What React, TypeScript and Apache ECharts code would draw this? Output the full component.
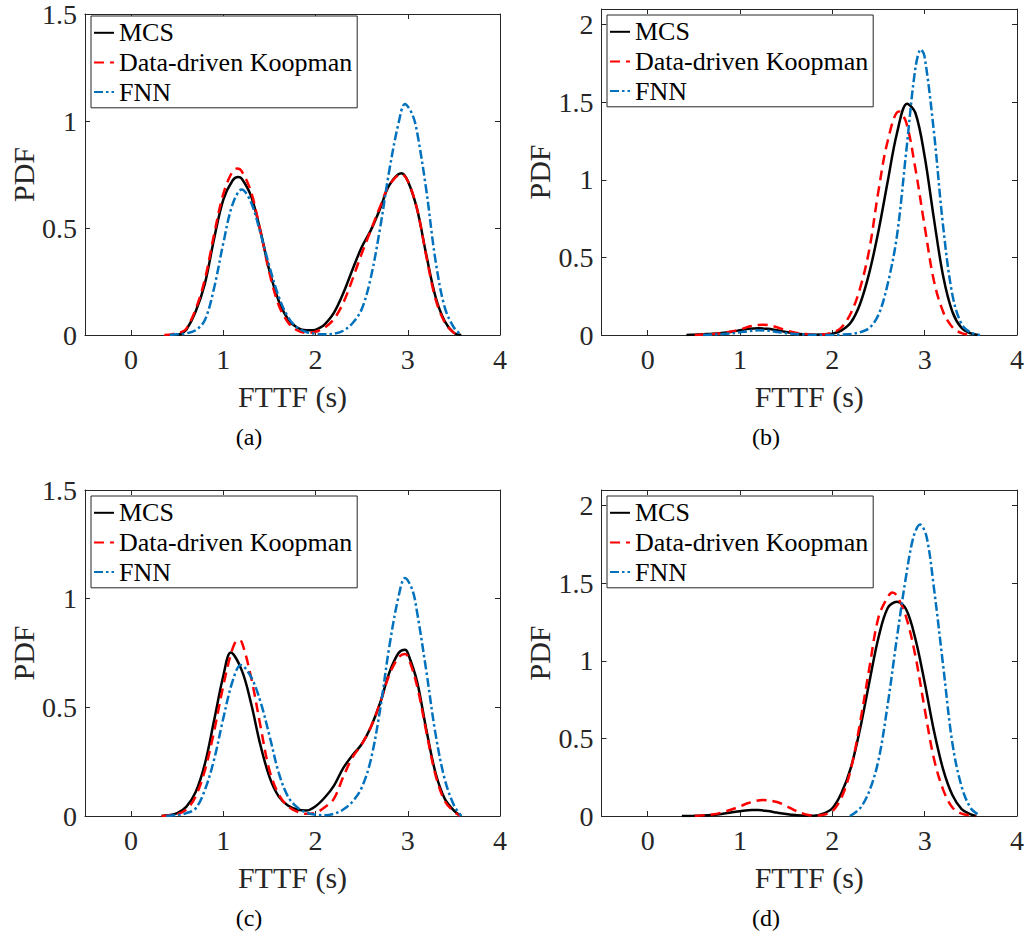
import React, { useEffect, useRef } from "react";
import * as echarts from "echarts";

// ---------- data ----------
const SERIES_NAMES = ["MCS", "Data-driven Koopman", "FNN"];
const CAPTIONS = ["(a)", "(b)", "(c)", "(d)"];
const X_TICKS = [0, 1, 2, 3, 4];
const Y_TICKS_AC = [0, 0.5, 1, 1.5];
const Y_TICKS_BD = [0, 0.5, 1, 1.5, 2];
const X_MIN = -0.5;
const X_MAX = 4;
const Y_MAX = [1.5, 2.1, 1.5, 2.1];

// panel (a)
const A_MCS = [[0.49, 0], [0.55, 0.008], [0.6, 0.025], [0.7, 0.11], [0.8, 0.24], [0.9, 0.45], [1.0, 0.633], [1.1, 0.722], [1.16, 0.738], [1.2, 0.73], [1.3, 0.65], [1.4, 0.49], [1.5, 0.3], [1.6, 0.16], [1.7, 0.075], [1.8, 0.035], [1.9, 0.022], [1.97, 0.022], [2.05, 0.035], [2.1, 0.05], [2.2, 0.105], [2.3, 0.195], [2.4, 0.305], [2.5, 0.41], [2.6, 0.49], [2.7, 0.59], [2.8, 0.7], [2.93, 0.756], [3.0, 0.72], [3.1, 0.59], [3.2, 0.376], [3.3, 0.18], [3.4, 0.065], [3.5, 0.01], [3.58, 0]];
const A_KOOP = [[0.36, 0], [0.45, 0.004], [0.55, 0.015], [0.6, 0.03], [0.7, 0.12], [0.8, 0.26], [0.9, 0.47], [1.0, 0.66], [1.1, 0.765], [1.15, 0.778], [1.2, 0.765], [1.3, 0.67], [1.4, 0.49], [1.5, 0.29], [1.6, 0.14], [1.7, 0.06], [1.8, 0.022], [1.9, 0.01], [2.0, 0.015], [2.1, 0.035], [2.2, 0.075], [2.3, 0.15], [2.4, 0.26], [2.5, 0.38], [2.6, 0.49], [2.7, 0.6], [2.8, 0.7], [2.93, 0.752], [3.0, 0.72], [3.1, 0.59], [3.2, 0.37], [3.3, 0.17], [3.4, 0.06], [3.5, 0.01], [3.57, 0]];
const A_FNN = [[0.42, 0], [0.5, 0.003], [0.6, 0.008], [0.7, 0.022], [0.8, 0.07], [0.9, 0.22], [1.0, 0.43], [1.1, 0.61], [1.2, 0.68], [1.3, 0.62], [1.4, 0.48], [1.5, 0.32], [1.6, 0.18], [1.7, 0.085], [1.8, 0.035], [1.9, 0.014], [2.0, 0.006], [2.1, 0.003], [2.2, 0.006], [2.3, 0.02], [2.4, 0.055], [2.5, 0.12], [2.6, 0.27], [2.7, 0.5], [2.8, 0.77], [2.9, 0.99], [2.97, 1.08], [3.05, 1.03], [3.1, 0.95], [3.2, 0.68], [3.3, 0.35], [3.4, 0.13], [3.5, 0.035], [3.58, 0]];

// panel (b)
const B_MCS = [[0.42, 0], [0.5, 0.002], [0.6, 0.005], [0.7, 0.008], [0.8, 0.013], [0.9, 0.02], [1.0, 0.03], [1.1, 0.04], [1.2, 0.043], [1.3, 0.04], [1.4, 0.03], [1.5, 0.02], [1.6, 0.01], [1.7, 0.004], [1.8, 0.002], [1.9, 0.003], [2.0, 0.008], [2.1, 0.03], [2.2, 0.08], [2.3, 0.2], [2.4, 0.4], [2.5, 0.67], [2.6, 0.99], [2.7, 1.3], [2.81, 1.49], [2.9, 1.43], [3.0, 1.15], [3.1, 0.75], [3.2, 0.38], [3.3, 0.15], [3.4, 0.045], [3.5, 0.01], [3.58, 0]];
const B_KOOP = [[0.51, 0], [0.6, 0.003], [0.7, 0.006], [0.8, 0.012], [0.9, 0.022], [1.0, 0.035], [1.1, 0.055], [1.2, 0.065], [1.25, 0.066], [1.3, 0.064], [1.4, 0.05], [1.5, 0.03], [1.6, 0.015], [1.7, 0.006], [1.8, 0.003], [1.9, 0.004], [2.0, 0.015], [2.1, 0.05], [2.2, 0.14], [2.3, 0.3], [2.4, 0.55], [2.5, 0.93], [2.6, 1.25], [2.72, 1.44], [2.8, 1.37], [2.9, 1.07], [3.0, 0.7], [3.1, 0.35], [3.2, 0.15], [3.3, 0.05], [3.4, 0.012], [3.5, 0]];
const B_FNN = [[0.6, 0], [0.7, 0.003], [0.8, 0.006], [0.9, 0.01], [1.0, 0.017], [1.1, 0.025], [1.2, 0.03], [1.3, 0.028], [1.4, 0.02], [1.5, 0.012], [1.6, 0.006], [1.7, 0.003], [1.8, 0.001], [1.9, 0], [2.0, 0], [2.1, 0.002], [2.2, 0.006], [2.3, 0.018], [2.4, 0.045], [2.5, 0.13], [2.6, 0.33], [2.7, 0.64], [2.8, 1.18], [2.9, 1.72], [2.96, 1.84], [3.0, 1.79], [3.1, 1.31], [3.2, 0.7], [3.3, 0.26], [3.4, 0.07], [3.5, 0.015], [3.6, 0]];

// panel (c)
const C_MCS = [[0.33, 0], [0.4, 0.003], [0.5, 0.013], [0.6, 0.043], [0.7, 0.11], [0.8, 0.24], [0.9, 0.44], [1.0, 0.645], [1.08, 0.752], [1.2, 0.67], [1.3, 0.52], [1.4, 0.33], [1.5, 0.18], [1.6, 0.09], [1.7, 0.048], [1.8, 0.03], [1.9, 0.025], [2.0, 0.045], [2.1, 0.085], [2.2, 0.14], [2.3, 0.22], [2.4, 0.28], [2.5, 0.33], [2.6, 0.41], [2.7, 0.52], [2.8, 0.66], [2.9, 0.75], [2.97, 0.765], [3.0, 0.75], [3.1, 0.62], [3.2, 0.4], [3.3, 0.2], [3.4, 0.08], [3.5, 0.025], [3.58, 0]];
const C_KOOP = [[0.33, 0], [0.4, 0.002], [0.5, 0.008], [0.6, 0.03], [0.7, 0.09], [0.8, 0.21], [0.9, 0.39], [1.0, 0.6], [1.1, 0.77], [1.16, 0.81], [1.2, 0.8], [1.3, 0.64], [1.4, 0.42], [1.5, 0.21], [1.6, 0.1], [1.7, 0.045], [1.8, 0.02], [1.9, 0.01], [2.0, 0.015], [2.1, 0.04], [2.2, 0.08], [2.3, 0.18], [2.4, 0.27], [2.5, 0.33], [2.6, 0.41], [2.7, 0.52], [2.8, 0.65], [2.9, 0.73], [2.97, 0.745], [3.0, 0.735], [3.1, 0.6], [3.2, 0.39], [3.3, 0.19], [3.4, 0.07], [3.5, 0.02], [3.57, 0]];
const C_FNN = [[0.38, 0], [0.5, 0.004], [0.6, 0.013], [0.7, 0.035], [0.8, 0.12], [0.9, 0.26], [1.0, 0.45], [1.1, 0.62], [1.19, 0.695], [1.3, 0.64], [1.4, 0.53], [1.5, 0.37], [1.6, 0.2], [1.7, 0.09], [1.8, 0.04], [1.9, 0.015], [2.0, 0.006], [2.1, 0.003], [2.2, 0.01], [2.3, 0.03], [2.4, 0.066], [2.5, 0.13], [2.6, 0.26], [2.7, 0.49], [2.8, 0.78], [2.9, 1.01], [2.97, 1.095], [3.05, 1.04], [3.1, 0.94], [3.2, 0.67], [3.3, 0.38], [3.4, 0.17], [3.5, 0.05], [3.58, 0]];

// panel (d)
const D_MCS = [[0.37, 0], [0.5, 0.001], [0.6, 0.003], [0.7, 0.007], [0.8, 0.013], [0.9, 0.022], [1.0, 0.031], [1.13, 0.039], [1.2, 0.038], [1.3, 0.032], [1.4, 0.022], [1.5, 0.013], [1.6, 0.006], [1.7, 0.002], [1.8, 0.002], [1.9, 0.015], [2.0, 0.05], [2.1, 0.15], [2.2, 0.31], [2.3, 0.56], [2.4, 0.86], [2.5, 1.15], [2.6, 1.34], [2.7, 1.38], [2.8, 1.33], [2.9, 1.14], [3.0, 0.86], [3.1, 0.55], [3.2, 0.3], [3.3, 0.135], [3.4, 0.045], [3.5, 0.01], [3.56, 0]];
const D_KOOP = [[0.51, 0], [0.6, 0.004], [0.7, 0.01], [0.8, 0.022], [0.9, 0.04], [1.0, 0.062], [1.1, 0.085], [1.25, 0.103], [1.4, 0.09], [1.5, 0.065], [1.6, 0.035], [1.7, 0.012], [1.8, 0.003], [1.9, 0.008], [2.0, 0.03], [2.1, 0.12], [2.2, 0.3], [2.3, 0.6], [2.4, 0.95], [2.5, 1.28], [2.6, 1.41], [2.65, 1.44], [2.7, 1.42], [2.8, 1.28], [2.9, 1.03], [3.0, 0.69], [3.1, 0.37], [3.2, 0.17], [3.3, 0.055], [3.4, 0.015], [3.55, 0]];
const D_FNN = [[2.19, 0], [2.3, 0.05], [2.4, 0.16], [2.5, 0.36], [2.6, 0.72], [2.7, 1.15], [2.8, 1.55], [2.88, 1.8], [2.95, 1.877], [3.02, 1.8], [3.1, 1.47], [3.2, 0.97], [3.3, 0.47], [3.4, 0.19], [3.5, 0.05], [3.6, 0.003]];

const PANEL_DATA = [
  [A_MCS, A_KOOP, A_FNN],
  [B_MCS, B_KOOP, B_FNN],
  [C_MCS, C_KOOP, C_FNN],
  [D_MCS, D_KOOP, D_FNN],
];

// ---------- styles / layout ----------
const FONT = "Liberation Serif";
const AXIS_COLOR = "#262626";
const LINE_STYLES = [
  { color: "#000000", width: 2.5, type: "solid" as any },
  { color: "#ff0000", width: 2.5, type: [10, 6] as any },
  { color: "#0072bd", width: 2.5, type: [9, 3, 2.5, 3] as any },
];
const GRIDS = [
  { left: 85, top: 9, width: 415, height: 326 },
  { left: 601.5, top: 9, width: 415.5, height: 326 },
  { left: 85, top: 490, width: 415, height: 326 },
  { left: 601.5, top: 490, width: 415.5, height: 326 },
];
const LEGEND_POS = [
  { left: 91, top: 16 },
  { left: 607, top: 15 },
  { left: 91, top: 496 },
  { left: 607, top: 496 },
];
const CAPTION_POS = [
  { x: 249, y: 437 },
  { x: 766, y: 437 },
  { x: 249, y: 918 },
  { x: 766, y: 918 },
];

function buildOption() {
  const grid: any[] = [];
  const xAxis: any[] = [];
  const yAxis: any[] = [];
  const series: any[] = [];
  const legend: any[] = [];
  const graphic: any[] = [];

  const lineStyle = { color: AXIS_COLOR, width: 1 };

  GRIDS.forEach((g, i) => {
    grid.push({ ...g, containLabel: false, show: false });
    const yTicks = Y_MAX[i] > 1.6 ? Y_TICKS_BD : Y_TICKS_AC;
    xAxis.push({
      type: "value",
      gridIndex: i,
      position: "bottom",
      min: X_MIN,
      max: X_MAX,
      axisLine: { show: true, onZero: false, lineStyle },
      axisTick: { show: true, inside: true, length: 5, customValues: X_TICKS, lineStyle },
      axisLabel: {
        show: true,
        customValues: X_TICKS,
        fontSize: 28,
        fontFamily: FONT,
        color: AXIS_COLOR,
        margin: 10,
      },
      splitLine: { show: false },
      name: "FTTF (s)",
      nameLocation: "middle",
      nameGap: 46,
      nameTextStyle: { fontSize: 30, fontFamily: FONT, color: AXIS_COLOR },
    });
    xAxis.push({
      type: "value",
      gridIndex: i,
      position: "top",
      min: X_MIN,
      max: X_MAX,
      axisLine: { show: true, onZero: false, lineStyle },
      axisTick: { show: true, inside: true, length: 5, customValues: X_TICKS, lineStyle },
      axisLabel: { show: false },
      splitLine: { show: false },
    });
    yAxis.push({
      type: "value",
      gridIndex: i,
      position: "left",
      min: 0,
      max: Y_MAX[i],
      axisLine: { show: true, onZero: false, lineStyle },
      axisTick: { show: true, inside: true, length: 5, customValues: yTicks, lineStyle },
      axisLabel: {
        show: true,
        customValues: yTicks,
        fontSize: 28,
        fontFamily: FONT,
        color: AXIS_COLOR,
        margin: 8,
      },
      splitLine: { show: false },
      name: "PDF",
      nameLocation: "middle",
      nameGap: 45,
      nameTextStyle: { fontSize: 30, fontFamily: FONT, color: AXIS_COLOR },
    });
    yAxis.push({
      type: "value",
      gridIndex: i,
      position: "right",
      min: 0,
      max: Y_MAX[i],
      axisLine: { show: true, onZero: false, lineStyle },
      axisTick: { show: true, inside: true, length: 5, customValues: yTicks, lineStyle },
      axisLabel: { show: false },
      splitLine: { show: false },
    });

    PANEL_DATA[i].forEach((d, k) => {
      series.push({
        type: "line",
        name: SERIES_NAMES[k],
        xAxisIndex: 2 * i,
        yAxisIndex: 2 * i,
        data: d,
        symbol: "none",
        showSymbol: false,
        smooth: 0.35,
        clip: true,
        lineStyle: LINE_STYLES[k],
        itemStyle: { color: LINE_STYLES[k].color },
        z: 2 + k,
      });
    });

    legend.push({
      data: SERIES_NAMES,
      orient: "vertical",
      left: LEGEND_POS[i].left,
      top: LEGEND_POS[i].top,
      itemWidth: 20,
      itemHeight: 14,
      itemGap: 0,
      padding: [2, 5, 1, 2],
      borderColor: AXIS_COLOR,
      borderWidth: 1,
      backgroundColor: "#ffffff",
      selectedMode: false,
      itemStyle: { opacity: 0, borderWidth: 0 },
      textStyle: { fontSize: 26, fontFamily: FONT, color: "#000000", lineHeight: 29.6 },
    });

    graphic.push({
      type: "text",
      x: CAPTION_POS[i].x,
      y: CAPTION_POS[i].y,
      style: {
        text: CAPTIONS[i],
        fontSize: 24,
        fontFamily: FONT,
        fill: "#000000",
        align: "center",
        verticalAlign: "middle",
      },
    });
  });

  return {
    animation: false,
    backgroundColor: "#ffffff",
    textStyle: { fontFamily: FONT },
    grid,
    xAxis,
    yAxis,
    series,
    legend,
    graphic,
  };
}

export default function App() {
  const ref = useRef<HTMLDivElement>(null);
  useEffect(() => {
    if (!ref.current) return;
    const chart = echarts.init(ref.current, null, { renderer: "svg" });
    chart.setOption(buildOption() as any);
    return () => {
      chart.dispose();
    };
  }, []);
  return (
    <div
      ref={ref}
      style={{ position: "fixed", left: 0, top: 0, width: 1029, height: 938, background: "#ffffff" }}
    />
  );
}
